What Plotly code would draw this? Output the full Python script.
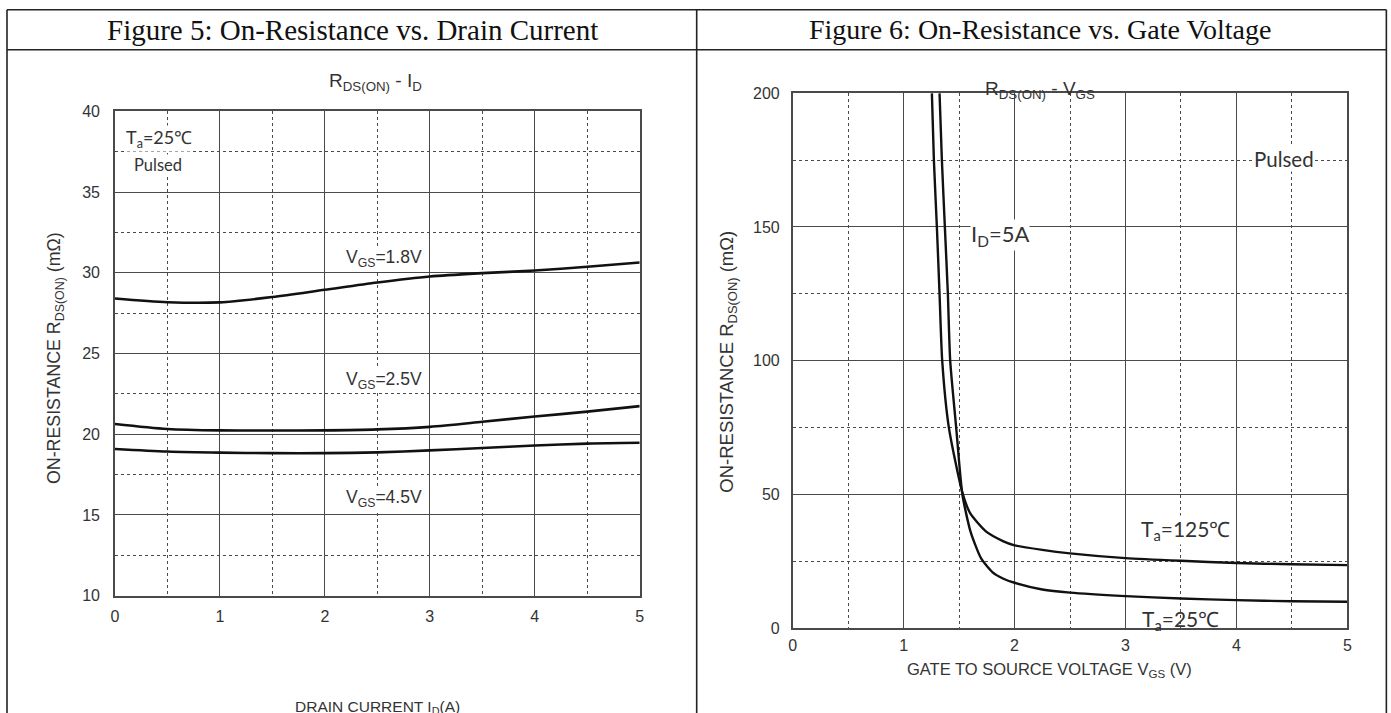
import plotly.graph_objects as go

# Screen mapping observed for the rendered page: picture = 0.994*fig_x + 4,
# picture = 0.9757*fig_y + 8.24.  Positions below are given in target picture
# pixels and converted to figure fractions.
SX, OX = 0.994, 4.0
SY, OY = 0.9757, 8.24
W, H = 1395, 722

# ---------------- data ----------------
# Figure 5: R_DS(ON) vs drain current
id_a = [0, 0.5, 1, 1.5, 2, 2.5, 3, 3.5, 4, 4.5, 5]
r_vgs18 = [28.41, 28.18, 28.17, 28.5, 28.95, 29.4, 29.77, 29.98, 30.14, 30.37, 30.64]
r_vgs25 = [20.64, 20.33, 20.24, 20.23, 20.24, 20.3, 20.46, 20.77, 21.1, 21.4, 21.74]
r_vgs45 = [19.09, 18.93, 18.86, 18.83, 18.83, 18.88, 19.0, 19.15, 19.3, 19.42, 19.47]

# Figure 6: R_DS(ON) vs gate voltage
vgs_t25 = [1.324, 1.345, 1.372, 1.399, 1.42, 1.474, 1.53, 1.604, 1.7, 1.8, 1.9, 2.0, 2.25, 2.5, 3, 3.5, 4, 4.5, 5]
r_t25 = [200, 175, 150, 125, 100, 75, 50, 36, 26, 21, 18.5, 17, 14.5, 13.3, 12.0, 11.1, 10.5, 10.1, 9.9]
vgs_t125 = [1.255, 1.273, 1.30, 1.324, 1.348, 1.408, 1.528, 1.6, 1.739, 1.9, 2.0, 2.25, 2.5, 3, 3.5, 4, 4.5, 5]
r_t125 = [200, 175, 150, 125, 100, 75, 51, 43, 36.3, 32.5, 31, 29.3, 28, 26.2, 25.2, 24.4, 23.9, 23.6]

header_left = "Figure 5: On-Resistance vs. Drain Current"
header_right = "Figure 6: On-Resistance vs. Gate Voltage"


def px(x):
    return ((x - OX) / SX) / W


def py(y):
    return 1 - ((y - OY) / SY) / H


SANS = "Liberation Sans, Arial, sans-serif"
CAL = "Lato, Open Sans, sans-serif"
SERIF = "Liberation Serif, Times New Roman, serif"
GRID = "#4a4a4a"

fig = go.Figure()

line_style = dict(color="#111111", width=2.6, shape="spline", smoothing=0.8)
for yv in (r_vgs18, r_vgs25, r_vgs45):
    fig.add_trace(go.Scatter(x=id_a, y=yv, mode="lines", line=line_style,
                             xaxis="x", yaxis="y", showlegend=False, hoverinfo="skip"))
for xv, yv in ((vgs_t125, r_t125), (vgs_t25, r_t25)):
    fig.add_trace(go.Scatter(x=xv, y=yv, mode="lines",
                             line=dict(color="#111111", width=2.4, shape="spline", smoothing=0.6),
                             xaxis="x2", yaxis="y2", showlegend=False, hoverinfo="skip"))


def axis(domain, rng, dtick, minor, standoff):
    return dict(domain=domain, range=rng, dtick=dtick, tick0=rng[0],
                showgrid=True, gridcolor=GRID, gridwidth=1,
                minor=dict(dtick=minor, tick0=rng[0], showgrid=True, gridcolor=GRID,
                           griddash="dot", gridwidth=1),
                showline=True, mirror=True, linecolor=GRID, linewidth=1.5,
                zeroline=False, ticks="", ticklabelstandoff=standoff,
                tickfont=dict(family=SANS, size=16, color="#333333"), fixedrange=True)


fig.update_layout(
    width=W, height=H, margin=dict(l=0, r=0, t=0, b=0),
    paper_bgcolor="white", plot_bgcolor="white",
    xaxis=dict(axis([px(115), px(640)], [0, 5], 1, 0.5, 5), anchor="y"),
    yaxis=dict(axis([py(595.5), py(111.5)], [10, 40], 5, 2.5, 10), anchor="x"),
    xaxis2=dict(axis([px(793), px(1348)], [0, 5], 1, 0.5, 2), anchor="y2"),
    yaxis2=dict(axis([py(628), py(93.3)], [0, 200], 50, 25, 8), anchor="x2"),
)

# table borders
bl = dict(color="#222222", width=1.6)
shapes = [
    dict(type="line", xref="paper", yref="paper", x0=px(7), x1=px(1387), y0=py(10), y1=py(10), line=bl),
    dict(type="line", xref="paper", yref="paper", x0=px(7), x1=px(1387), y0=py(50), y1=py(50), line=bl),
    dict(type="line", xref="paper", yref="paper", x0=px(7), x1=px(7), y0=py(10), y1=py(730), line=bl),
    dict(type="line", xref="paper", yref="paper", x0=px(697), x1=px(697), y0=py(10), y1=py(730), line=bl),
    dict(type="line", xref="paper", yref="paper", x0=px(1387), x1=px(1387), y0=py(10), y1=py(730), line=bl),
]
fig.update_layout(shapes=shapes)

ann = []


def paper_text(text, x, y, size, family, angle=0, color="#222222", xanchor="center"):
    ann.append(dict(text=text, x=px(x), y=py(y), xref="paper", yref="paper",
                    showarrow=False, textangle=angle, xanchor=xanchor, yanchor="middle",
                    font=dict(size=size, family=family, color=color)))


def data_text(text, x, y, size, family, xr, yr, xanchor="center", color="#333333", bg="white"):
    ann.append(dict(text=text, x=x, y=y, xref=xr, yref=yr, showarrow=False,
                    xanchor=xanchor, yanchor="middle",
                    bgcolor=bg, borderpad=0,
                    font=dict(size=size, family=family, color=color)))


# headers
paper_text(header_left, 353, 30, 29, SERIF, color="#111111")
paper_text(header_right, 1040, 30, 28, SERIF, color="#111111")

# chart titles
paper_text("R<sub>DS(ON)</sub> - I<sub>D</sub>", 376, 82, 19, SANS, color="#333333")
paper_text("R<sub>DS(ON)</sub> - V<sub>GS</sub>", 1040, 90, 19, SANS, color="#333333")

# axis titles
paper_text("ON-RESISTANCE R<sub>DS(ON)</sub> (mΩ)", 55, 358, 17.8, SANS, angle=-90, color="#333333")
paper_text("ON-RESISTANCE R<sub>DS(ON)</sub> (mΩ)", 728, 362, 18.5, SANS, angle=-90, color="#333333")
paper_text("DRAIN CURRENT I<sub>D</sub>(A)", 378, 707, 15.5, SANS, color="#333333")
paper_text("GATE TO SOURCE VOLTAGE V<sub>GS</sub> (V)", 1050, 670, 16.5, SANS, color="#333333")

# in-plot labels, left
data_text("T<sub>a</sub>=25℃", 0.095, 38.3, 18, CAL, "x", "y", xanchor="left")
data_text("Pulsed", 0.17, 36.68, 16.5, CAL, "x", "y", xanchor="left")
data_text("V<sub>GS</sub>=1.8V", 2.56, 30.9, 17.5, SANS, "x", "y")
data_text("V<sub>GS</sub>=2.5V", 2.56, 23.3, 17.5, SANS, "x", "y")
data_text("V<sub>GS</sub>=4.5V", 2.56, 16.0, 17.5, SANS, "x", "y")

# in-plot labels, right
data_text("Pulsed", 4.43, 175.5, 20.5, CAL, "x2", "y2")
data_text("I<sub>D</sub>=5A", 1.87, 147, 22, CAL, "x2", "y2")
data_text("T<sub>a</sub>=125℃", 3.545, 36.8, 21, CAL, "x2", "y2")
data_text("T<sub>a</sub>=25℃", 3.5, 3.2, 21, CAL, "x2", "y2", bg="rgba(0,0,0,0)")

fig.update_layout(annotations=ann)

fig.write_html("out.html")
